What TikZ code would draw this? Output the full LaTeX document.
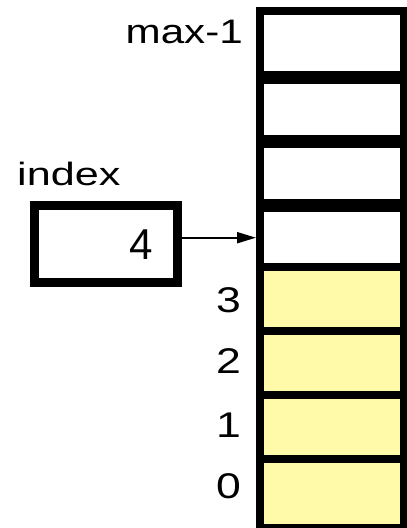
\documentclass[tikz,border=0pt]{standalone}
\usepackage{fontspec}
\setmainfont{Liberation Sans}
\usetikzlibrary{arrows.meta}
\definecolor{cellyellow}{RGB}{255,250,170}
\begin{document}
\begin{tikzpicture}[x=1pt,y=-1pt,
  cellbox/.style={inner sep=0pt, minimum width=136pt, anchor=north west},
  whitecell/.style={cellbox, fill=white},
  yellowcell/.style={cellbox, fill=cellyellow},
  lbl/.style={inner sep=0pt, font=\fontsize{34}{40}\selectfont, anchor=base east},
  ]
\useasboundingbox (0,0) rectangle (407,528);
% array backdrop
\node[fill=black, inner sep=0pt, minimum width=151pt, minimum height=521pt, anchor=north west] (arr) at (256,7) {};
% cells
\node[whitecell, minimum height=56pt] (c1) at (264,15) {};
\node[whitecell, minimum height=51pt] (c2) at (264,84) {};
\node[whitecell, minimum height=51pt] (c3) at (264,148) {};
\node[whitecell, minimum height=51pt] (c4) at (264,212) {};
\node[yellowcell, minimum height=56pt] (c5) at (264,271) {};
\node[yellowcell, minimum height=56pt] (c6) at (264,335) {};
\node[yellowcell, minimum height=56pt] (c7) at (264,399) {};
\node[yellowcell, minimum height=61pt] (c8) at (264,463) {};
% labels
\node[lbl] (lmax) at (243,43) {\scalebox{1.24}[1.0]{max-1}};
\node[lbl] (l3) at (241,312) {\scalebox{1.31}[1.05]{3}};
\node[lbl] (l2) at (241,373) {\scalebox{1.31}[1.05]{2}};
\node[lbl] (l1) at (241,437) {\scalebox{1.31}[1.05]{1}};
\node[lbl] (l0) at (241,498) {\scalebox{1.31}[1.05]{0}};
% index box
\node[lbl, anchor=base west] (lindex) at (17,185) {\scalebox{1.27}[0.95]{index}};
\node[draw=black, line width=9pt, fill=white, inner sep=0pt, minimum width=143pt, minimum height=77pt] (box) at (106,244) {};
\node[lbl] (four) at (153,259) {\scalebox{1.24}[1.27]{4}};
% pointer
\draw[line width=2pt, -{Triangle[length=19pt,width=11pt]}] (box.east |- c4.center) -- (arr.west |- c4.center);
\end{tikzpicture}
\end{document}
